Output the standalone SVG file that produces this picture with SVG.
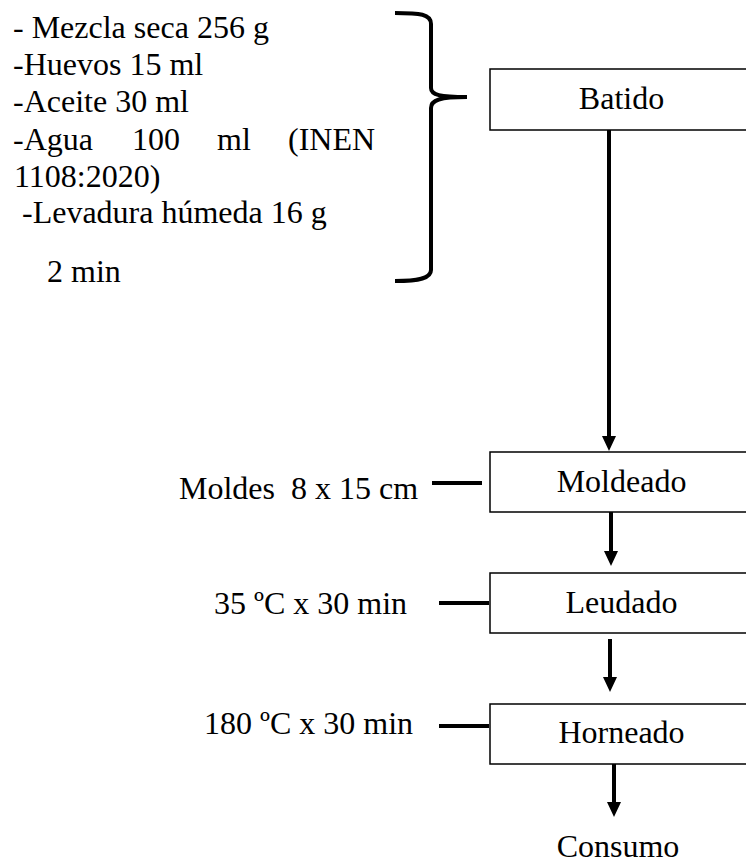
<svg xmlns="http://www.w3.org/2000/svg" width="746" height="864" viewBox="0 0 746 864">
<style>
text{font-family:'Liberation Serif',Tinos,'Times New Roman',Times,'Noto Serif','DejaVu Serif',serif;font-size:32px;fill:#000;white-space:pre}
.box{fill:#fff;stroke:#000;stroke-width:1.5}
.c{text-anchor:middle}
.ln{stroke:#000;stroke-width:4;fill:none}
.head{fill:#000}
</style>
<rect width="746" height="864" fill="#fff"/>
<g font-family="Liberation Serif, Tinos, Times New Roman, serif">
<g id="ingredients">
<text x="13" y="38">- Mezcla seca 256 g</text>
<text x="13" y="75">-Huevos 15 ml</text>
<text x="13" y="112">-Aceite 30 ml</text>
<text y="150"><tspan x="13">-Agua</tspan><tspan x="132">100</tspan><tspan x="217">ml</tspan><tspan x="288">(INEN</tspan></text>
<text x="14" y="187">1108:2020)</text>
<text x="14" y="223"> -Levadura húmeda 16 g</text>
<text x="47" y="282">2 min</text>
<path class="ln" d="M395 13 C420 13 431 14 431 24 L431 88 C431 95 440 97 467 97 M467 97 C440 97 431 100 431 108 L431 270 C431 278 420 281 395 281"/>
</g>
<g id="batido"><rect class="box" x="490" y="69" width="280" height="61"/><text class="c" x="621.5" y="109">Batido</text></g>
<g id="moldeado"><rect class="box" x="490" y="452" width="280" height="60"/><text class="c" x="621.5" y="492">Moldeado</text></g>
<g id="leudado"><rect class="box" x="490" y="573" width="280" height="60"/><text class="c" x="621.5" y="613">Leudado</text></g>
<g id="horneado"><rect class="box" x="490" y="704" width="280" height="60"/><text class="c" x="621.5" y="743">Horneado</text></g>
<g id="consumo"><text class="c" x="618" y="857">Consumo</text></g>
<g id="label-moldes"><text x="179" y="499">Moldes  8 x 15 cm</text></g>
<g id="label-leudado"><text x="214" y="614">35 ºC x 30 min</text></g>
<g id="label-horneado"><text x="204" y="734">180 ºC x 30 min</text></g>
<g id="connectors">
<line class="ln" x1="609" y1="130" x2="609" y2="440"/><path class="head" d="M602 436 L616 436 L609 451 Z"/>
<line class="ln" x1="611" y1="512" x2="611" y2="556"/><path class="head" d="M604 551 L618 551 L611 566 Z"/>
<line class="ln" x1="610" y1="639" x2="610" y2="682"/><path class="head" d="M603 677 L617 677 L610 692 Z"/>
<line class="ln" x1="614" y1="764" x2="614" y2="807"/><path class="head" d="M607 802 L621 802 L614 817 Z"/>
<line class="ln" x1="432" y1="483" x2="482" y2="483"/>
<line class="ln" x1="439" y1="603" x2="489" y2="603"/>
<line class="ln" x1="439" y1="726" x2="489" y2="726"/>
</g>
</g>
</svg>
